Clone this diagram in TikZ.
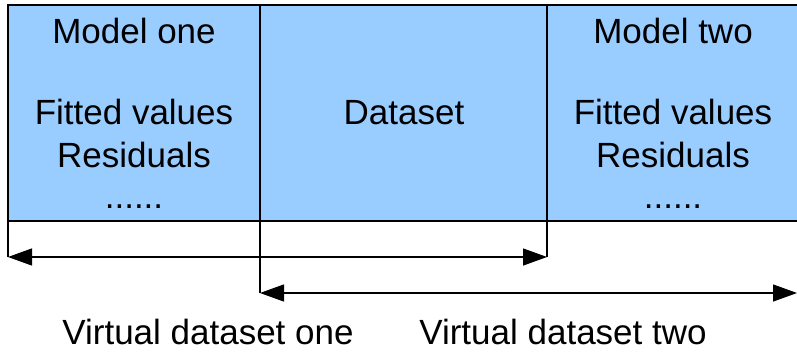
\documentclass[tikz,border=0pt]{standalone}
\usepackage{fontspec}
\setmainfont{Liberation Sans}
\usetikzlibrary{arrows.meta}
\definecolor{boxblue}{HTML}{99CCFF}
\begin{document}
\begin{tikzpicture}[x=1pt,y=-1pt,
  panel/.style={draw=black,line width=1.3pt,fill=boxblue,inner sep=0pt,outer sep=0pt,rectangle},
  lbl/.style={anchor=base,inner sep=0pt,font=\fontsize{35}{40}\selectfont},
  conn/.style={line width=1.3pt,black},
  dbl/.style={line width=1.3pt,black,{Triangle[length=24pt,width=17pt]}-{Triangle[length=24pt,width=17pt]}}]
\useasboundingbox (0,0) rectangle (797,351);
\fill[white] (0,0) rectangle (797,351);
% boxes
\node[panel,minimum width=252pt,minimum height=216pt,anchor=north west] (m1) at (8,5) {};
\node[panel,minimum width=287pt,minimum height=216pt,anchor=north west] (ds) at (260,5) {};
\node[panel,minimum width=258pt,minimum height=216pt,anchor=north west] (m2) at (547,5) {};
% texts
\node[lbl] (t1) at (134,43) {Model one};
\node[lbl] (t2) at (134,124) {Fitted values};
\node[lbl] (t3) at (134,167) {Residuals};
\node[lbl] (t4) at (134,208) {......};
\node[lbl] (t5) at (404,124) {Dataset};
\node[lbl] (t6) at (673,43) {Model two};
\node[lbl] (t7) at (673,124) {Fitted values};
\node[lbl] (t8) at (673,167) {Residuals};
\node[lbl] (t9) at (673,208) {......};
\node[lbl] (v1) at (208,344) {Virtual dataset one};
\node[lbl] (v2) at (563,344) {Virtual dataset two};
% connectors
\coordinate (a1) at (8,257);
\coordinate (a2) at (547,257);
\coordinate (b1) at (260,293);
\coordinate (b2) at (797,293);
\draw[conn] (m1.south west) -- (a1);
\draw[conn] (m2.south west) -- (a2);
\draw[conn] (ds.south west) -- (b1);
\draw[dbl] (a1) -- (a2);
\draw[dbl] (b1) -- (b2);
\end{tikzpicture}
\end{document}
